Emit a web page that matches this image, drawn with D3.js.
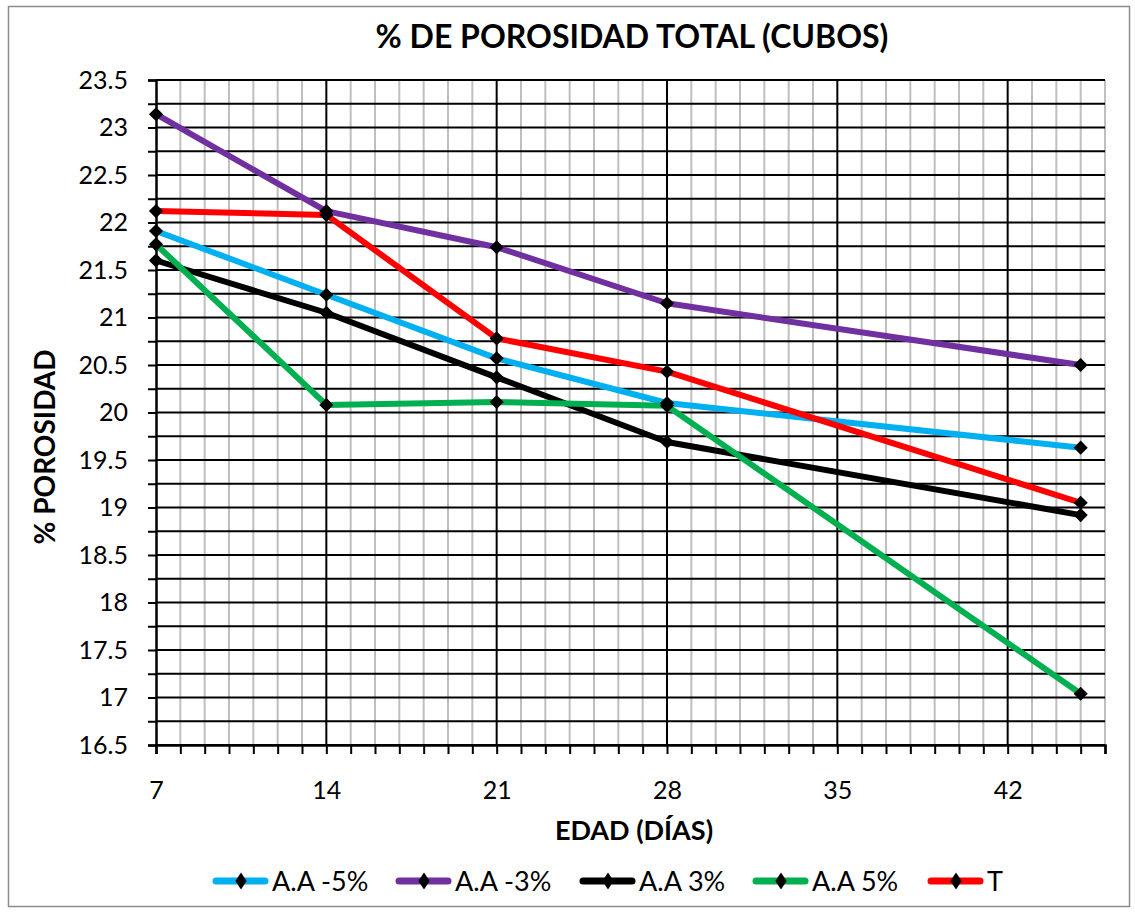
<!DOCTYPE html>
<html>
<head>
<meta charset="utf-8">
<script src="https://cdn.jsdelivr.net/npm/d3@7"></script>
<style>
  html, body { margin: 0; padding: 0; background: #fff; }
  svg { display: block; font-family: Lato, "Open Sans", sans-serif; }
</style>
</head>
<body>
<svg id="chart" width="1135" height="912"></svg>
<script>
// Curing age (days)
const ages = [7, 14, 21, 28, 45];

// Total porosity (%) per mix
const seriesNames = ["A.A -5%", "A.A -3%", "A.A 3%", "A.A 5%", "T"];
const seriesColors = ["#00B0F0", "#7030A0", "#000000", "#00B050", "#FF0000"];
const aaMinus5 = [21.91, 21.24, 20.57, 20.10, 19.63];
const aaMinus3 = [23.14, 22.12, 21.74, 21.15, 20.50];
const aaPlus3  = [21.60, 21.05, 20.37, 19.69, 18.92];
const aaPlus5  = [21.77, 20.08, 20.11, 20.07, 17.04];
const control  = [22.12, 22.08, 20.78, 20.43, 19.05];
const seriesValues = [aaMinus5, aaMinus3, aaPlus3, aaPlus5, control];

// Axis ticks
const xTickLabels = [7, 14, 21, 28, 35, 42];
const yTickLabels = [16.5, 17, 17.5, 18, 18.5, 19, 19.5, 20, 20.5, 21, 21.5, 22, 22.5, 23, 23.5];

const svg = d3.select("#chart");
const FONT = "Lato, sans-serif";

// Outer frame
svg.append("rect")
  .attr("x", 8.5).attr("y", 6.5)
  .attr("width", 1121).attr("height", 900)
  .attr("fill", "#fff").attr("stroke", "#8c8c8c").attr("stroke-width", 1.5);

const plot = { left: 156, right: 1105, top: 80, bottom: 745 };

const x = d3.scaleLinear().domain([7, 46]).range([plot.left, plot.right]);
const y = d3.scaleLinear().domain([16.5, 23.5]).range([plot.bottom, plot.top]);

// Minor vertical grid (every day)
const minorDays = d3.range(8, 47).filter(d => (d - 7) % 7 !== 0);
svg.append("g").selectAll("line").data(minorDays).join("line")
  .attr("x1", d => x(d)).attr("x2", d => x(d))
  .attr("y1", plot.top).attr("y2", plot.bottom)
  .attr("stroke", "#bfbfbf").attr("stroke-width", 2);

// Horizontal grid (every 0.25)
const hLines = d3.range(0, 29).map(i => 16.5 + i * 0.25);
svg.append("g").selectAll("line").data(hLines).join("line")
  .attr("x1", plot.left).attr("x2", plot.right)
  .attr("y1", d => y(d)).attr("y2", d => y(d))
  .attr("stroke", "#000").attr("stroke-width", 2);

// Major vertical grid (every 7 days)
svg.append("g").selectAll("line").data([14, 21, 28, 35, 42]).join("line")
  .attr("x1", d => x(d)).attr("x2", d => x(d))
  .attr("y1", plot.top).attr("y2", plot.bottom)
  .attr("stroke", "#000").attr("stroke-width", 2);

// Y axis
const yAxis = d3.axisLeft(y)
  .tickValues(hLines)
  .tickSize(8)
  .tickPadding(20)
  .tickFormat(d => yTickLabels.includes(d) ? d3.format("")(d) : "");
const gy = svg.append("g").attr("transform", `translate(${plot.left},0)`).call(yAxis);
gy.select(".domain").attr("stroke", "#000").attr("stroke-width", 2.5);
gy.selectAll(".tick line").attr("stroke", "#000").attr("stroke-width", 2);
gy.selectAll(".tick text")
  .attr("font-family", FONT).attr("font-size", 25).attr("fill", "#000");

// X axis
const xAxis = d3.axisBottom(x)
  .tickValues(d3.range(7, 47))
  .tickSize(9)
  .tickPadding(27)
  .tickFormat(d => xTickLabels.includes(d) ? d : "");
const gx = svg.append("g").attr("transform", `translate(0,${plot.bottom})`).call(xAxis);
gx.select(".domain").attr("stroke", "#000").attr("stroke-width", 2.5);
gx.selectAll(".tick line").attr("stroke", "#000").attr("stroke-width", 2);
gx.selectAll(".tick text")
  .attr("font-family", FONT).attr("font-size", 25).attr("fill", "#000");

// Series lines and markers
const line = d3.line().x((d, i) => x(ages[i])).y(d => y(d));
const diamond = d3.symbol().type(d3.symbolSquare).size(100);

seriesValues.forEach((vals, s) => {
  svg.append("path")
    .datum(vals)
    .attr("d", line)
    .attr("fill", "none")
    .attr("stroke", seriesColors[s])
    .attr("stroke-width", 6)
    .attr("stroke-linejoin", "round");
});
seriesValues.forEach((vals, s) => {
  svg.append("g").selectAll("path").data(vals).join("path")
    .attr("d", diamond)
    .attr("transform", (d, i) => `translate(${x(ages[i])},${y(d)}) rotate(45)`)
    .attr("fill", "#000");
});

// Title
svg.append("text")
  .attr("x", 632).attr("y", 48)
  .attr("text-anchor", "middle")
  .attr("font-family", FONT).attr("font-weight", "bold").attr("font-size", 32)
  .text("% DE POROSIDAD TOTAL (CUBOS)");

// Axis titles
svg.append("text")
  .attr("x", 634).attr("y", 840)
  .attr("text-anchor", "middle")
  .attr("font-family", FONT).attr("font-weight", "bold").attr("font-size", 27)
  .text("EDAD (DÍAS)");

svg.append("text")
  .attr("transform", "translate(55,447) rotate(-90)")
  .attr("text-anchor", "middle")
  .attr("font-family", FONT).attr("font-weight", "bold").attr("font-size", 28)
  .text("% POROSIDAD");

// Legend
const legendX = [213, 396, 580, 753, 928];
const legendY = 881;
const lg = svg.append("g");
seriesNames.forEach((name, s) => {
  const g = lg.append("g").attr("transform", `translate(${legendX[s]},${legendY})`);
  g.append("line").attr("x1", 3).attr("x2", 52).attr("y1", 0).attr("y2", 0)
    .attr("stroke", seriesColors[s]).attr("stroke-width", 7).attr("stroke-linecap", "round");
  g.append("path").attr("d", diamond).attr("transform", "translate(28,0) scale(0.8,1.2) rotate(45)").attr("fill", "#000");
  g.append("text").attr("x", 59).attr("y", 10)
    .attr("font-family", FONT).attr("font-size", 27)
    .text(name);
});
</script>
</body>
</html>
